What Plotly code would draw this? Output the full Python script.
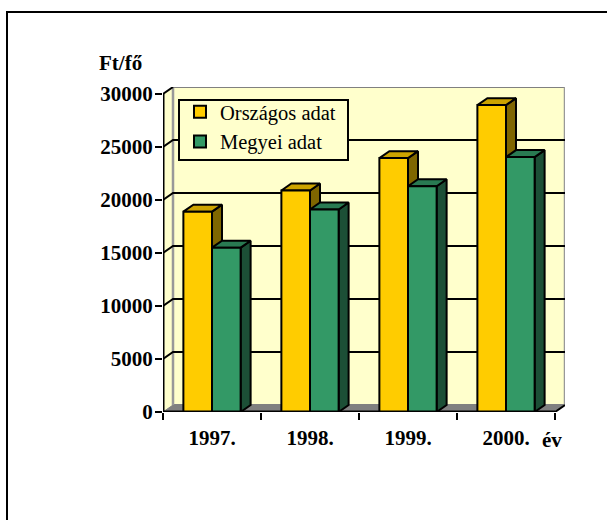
import plotly.graph_objects as go

years = ["1997.", "1998.", "1999.", "2000."]
orszagos = [18900, 20900, 23950, 28950]
megyei = [15500, 19100, 21300, 24050]
y_ticks = [0, 5000, 10000, 15000, 20000, 25000, 30000]
series = [
    ("Országos adat", orszagos, "#FFCC00", "#CCA300", "#7F6600"),
    ("Megyei adat", megyei, "#339966", "#297A52", "#1C4F36"),
]

# Pixel frame of the front plane of the pseudo-3D box
L, R, B, T = 163.0, 555.0, 412.5, 94.0
DX_PX, DY_PX = 10.0, 7.0
WIDTH, HEIGHT = 607, 520
UX = (R - L) / 4            # px per category
UY = (B - T) / 30000        # px per value unit
DX = DX_PX / UX             # depth in x data units
DY = DY_PX / UY             # depth in y data units
BAR = 0.292                 # bar width in category units
BLACK = "#000000"
PW = R + DX_PX - L
PH = B - T + DY_PX

fig = go.Figure()


def px(v):
    return (v - L) / PW


def py(v):
    return (B - v) / PH


def poly(xs, ys, fill, line=BLACK, width=2):
    fig.add_trace(go.Scatter(
        x=xs, y=ys, mode="lines", fill="toself", fillcolor=fill,
        line=dict(color=line, width=width), hoverinfo="skip", showlegend=False))


def seg(xs, ys, color=BLACK, width=2):
    fig.add_trace(go.Scatter(
        x=xs, y=ys, mode="lines", line=dict(color=color, width=width),
        hoverinfo="skip", showlegend=False))


YMAX = y_ticks[-1]
# walls
poly([DX, 4 + DX, 4 + DX, DX, DX], [DY, DY, YMAX + DY, YMAX + DY, DY], "#FFFFCC", "#808080", 2)
poly([0, DX, DX, 0, 0], [0, DY, YMAX + DY, YMAX, 0], "#FFFFCC", "#FFFFCC", 0)
# floor
poly([0, DX, 4 + DX, 4, 0], [0, DY, DY, 0, 0], "#808080", "#808080", 1)
seg([DX, DX], [DY, YMAX + DY], "#999999", 2.5)
seg([DX, 4 + DX], [YMAX + DY, YMAX + DY], "#808080", 2)
seg([4 + DX, 4 + DX], [DY, YMAX + DY], "#999999", 2.5)
# gridlines and their wall returns
for v in y_ticks[1:-1]:
    seg([0, DX, 4 + DX], [v, v + DY, v + DY])
seg([0, DX], [YMAX, YMAX + DY])
seg([4, 4 + DX], [0, DY])

# bars: side and top faces built from the data, front faces on an overlaid axis pair
for s, (name, vals, front, top, side) in enumerate(series):
    xs = [i + 0.5 + (s - 1) * BAR for i in range(len(years))]
    for x0, v in zip(xs, vals):
        x1 = x0 + BAR
        poly([x1, x1 + DX, x1 + DX, x1, x1], [0, DY, v + DY, v, 0], side)
        poly([x0, x0 + DX, x1 + DX, x1, x0], [v, v + DY, v + DY, v, v], top)
    fig.add_trace(go.Bar(
        x=[x + BAR / 2 for x in xs], y=vals, width=BAR, name=name,
        xaxis="x2", yaxis="y2",
        marker=dict(color=front, line=dict(color=BLACK, width=2)),
        hoverinfo="skip"))

# axis lines on the front plane, above the bars
for xs, ys in (([0, 4], [0, 0]), ([0, 0], [0, YMAX])):
    fig.add_trace(go.Scatter(x=xs, y=ys, mode="lines", xaxis="x2", yaxis="y2",
                             line=dict(color=BLACK, width=3), hoverinfo="skip", showlegend=False))

fig.update_layout(
    width=WIDTH, height=HEIGHT, barmode="overlay",
    margin=dict(l=L, r=WIDTH - R - DX_PX, t=T - DY_PX, b=HEIGHT - B, autoexpand=False),
    paper_bgcolor="white", plot_bgcolor="rgba(0,0,0,0)",
    font=dict(family="Liberation Serif", color=BLACK, size=21),
    xaxis=dict(
        range=[0, 4 + DX], tickmode="array",
        tickvals=[i + 0.5 for i in range(len(years))], ticktext=[f"<b>{y}</b>" for y in years],
        ticks="", showgrid=False, zeroline=False, showline=False, ticklabelstandoff=11,
        tickfont=dict(size=21),
        minor=dict(tickmode="array", tickvals=list(range(len(years) + 1)),
                   ticks="outside", ticklen=7, tickwidth=2, tickcolor=BLACK, showgrid=False),
    ),
    yaxis=dict(
        range=[0, YMAX + DY], tickmode="array", tickvals=y_ticks,
        ticktext=[f"<b>{v}</b>" for v in y_ticks], ticks="outside", ticklen=7, tickwidth=2,
        tickcolor=BLACK, showgrid=False, zeroline=False, showline=False,
        ticklabelstandoff=-2, tickfont=dict(size=21),
    ),
    xaxis2=dict(overlaying="x", range=[0, 4 + DX], visible=False),
    yaxis2=dict(overlaying="y", range=[0, YMAX + DY], visible=False),
    legend=dict(
        x=px(180), y=py(92), xanchor="left", yanchor="top",
        bgcolor="rgba(0,0,0,0)", borderwidth=0,
        font=dict(size=20.5), traceorder="normal", itemsizing="constant",
        entrywidth=127, entrywidthmode="pixels", tracegroupgap=0,
    ),
    shapes=[
        dict(type="path", xref="paper", yref="paper",
             path=f"M {px(7)} {py(530)} L {px(7)} {py(12)} L {px(620)} {py(12)}",
             line=dict(color=BLACK, width=2), layer="below"),
        dict(type="rect", xref="paper", yref="paper",
             x0=px(179), x1=px(348), y0=py(160), y1=py(100),
             fillcolor="#FFFFCC", line=dict(color=BLACK, width=2), layer="above"),
    ],
    annotations=[
        dict(text="<b>Ft/fő</b>", xref="paper", yref="paper", showarrow=False, font=dict(size=21),
             x=px(97), y=py(63), xanchor="left", yanchor="middle"),
        dict(text="<b>év</b>", xref="paper", yref="paper", showarrow=False, font=dict(size=21),
             x=px(552), y=py(441), xanchor="center", yanchor="middle"),
    ],
)

fig.write_html("out.html", config={"displayModeBar": False},
               post_script="document.body.style.margin='0';")
